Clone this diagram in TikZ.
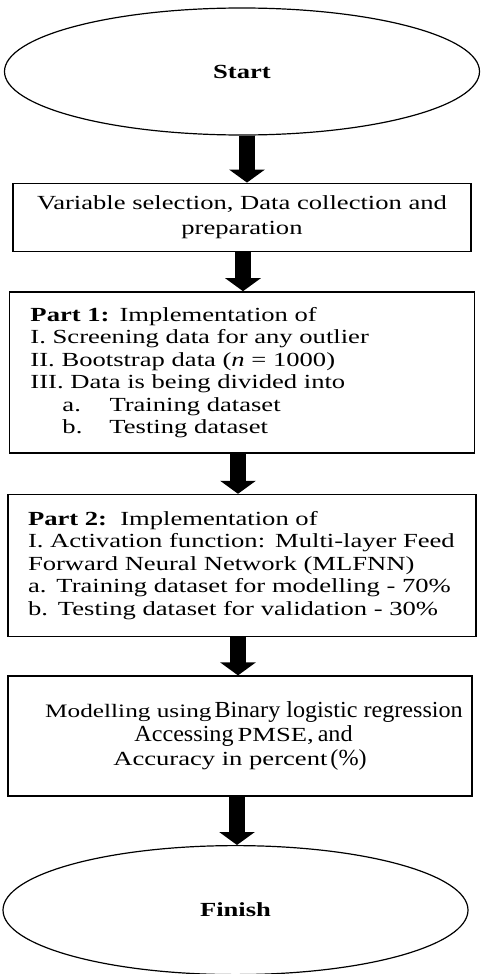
\documentclass[tikz,border=0pt]{standalone}
\usepackage{fontspec}
\setmainfont{Liberation Serif}[FakeStretch=1.33]
\newfontfamily\plainfont{Liberation Serif}[FakeStretch=1.05]
\usetikzlibrary{arrows.meta,positioning,shapes.geometric}
\tikzset{
  term/.style={draw, ellipse, line width=1.2pt, inner sep=0pt, font=\fontsize{20}{22.5}\selectfont\bfseries},
  block/.style={draw, rectangle, line width=1.6pt, inner sep=0pt, font=\fontsize{20}{22.5}\selectfont},
  fatarrow/.style={line width=16pt, -{Triangle[length=13pt,width=35pt]}}
}
\newcommand{\sub}[1]{\hspace*{32pt}\makebox[47pt][l]{#1}}
\newcommand{\mixed}[1]{{\plainfont\fontsize{23}{24}\selectfont #1}}

\begin{document}
\begin{tikzpicture}
  \useasboundingbox (0,0) rectangle (484pt,-974pt);
  \node[term, minimum width=475pt, minimum height=127pt] (start) at (242pt,-71.5pt) {Start};
  \node[block, below=47pt of start, minimum width=458pt, minimum height=68pt, align=center,
        font=\fontsize{20}{25}\selectfont] (prep)
    {Variable selection, Data collection and\\preparation};
  \node[block, below=39pt of prep, text width=423pt, inner xsep=21pt, minimum height=161pt, align=left] (part1)
    {\textbf{Part 1:} Implementation of\\
     I. Screening data for any outlier\\
     II. Bootstrap data (\textit{n} = 1000)\\
     III. Data is being divided into\\
     \sub{a.}Training dataset\\
     \sub{b.}Testing dataset};
  \node[block, below=40pt of part1, text width=428pt, inner xsep=20pt, minimum height=142pt, align=left] (part2)
    {\textbf{Part 2:}\, Implementation of\\
     I. Activation function: Multi-layer Feed\\
     Forward Neural Network (MLFNN)\\
     a. Training dataset for modelling - 70\%\\
     b. Testing dataset for validation - 30\%};
  \node[block, below=38pt of part2, xshift=-2pt, minimum width=464pt, minimum height=120pt, align=center,
        font={\fontsize{20}{24}\selectfont\lineskiplimit=-20pt\relax}] (model)
    {\hspace*{28pt}{\fontsize{19}{24}\selectfont Modelling using}\hspace{3pt}\mixed{Binary logistic regression}\\
     \hspace*{7pt}\mixed{Accessing}\hspace{4pt}PMSE,\hspace{4pt}\mixed{and}\\
     Accuracy in percent\hspace{3pt}\mixed{(\%)}};
  \node[term, below=48pt of model, xshift=-4.5pt, minimum width=465pt, minimum height=129pt] (finish) {Finish};
  \draw[fatarrow] ([xshift=5pt]start.south) -- ([xshift=5pt]start.south |- prep.north);
  \draw[fatarrow] ([xshift=1pt]prep.south) -- ([xshift=1pt]prep.south |- part1.north);
  \draw[fatarrow] ([xshift=-4pt]part1.south) -- ([xshift=-4pt]part1.south |- part2.north);
  \draw[fatarrow] ([xshift=-4pt]part2.south) -- ([xshift=-4pt]part2.south |- model.north);
  \draw[fatarrow] ([xshift=-3pt]model.south) -- ([xshift=-3pt]model.south |- finish.north);
\end{tikzpicture}
\end{document}
